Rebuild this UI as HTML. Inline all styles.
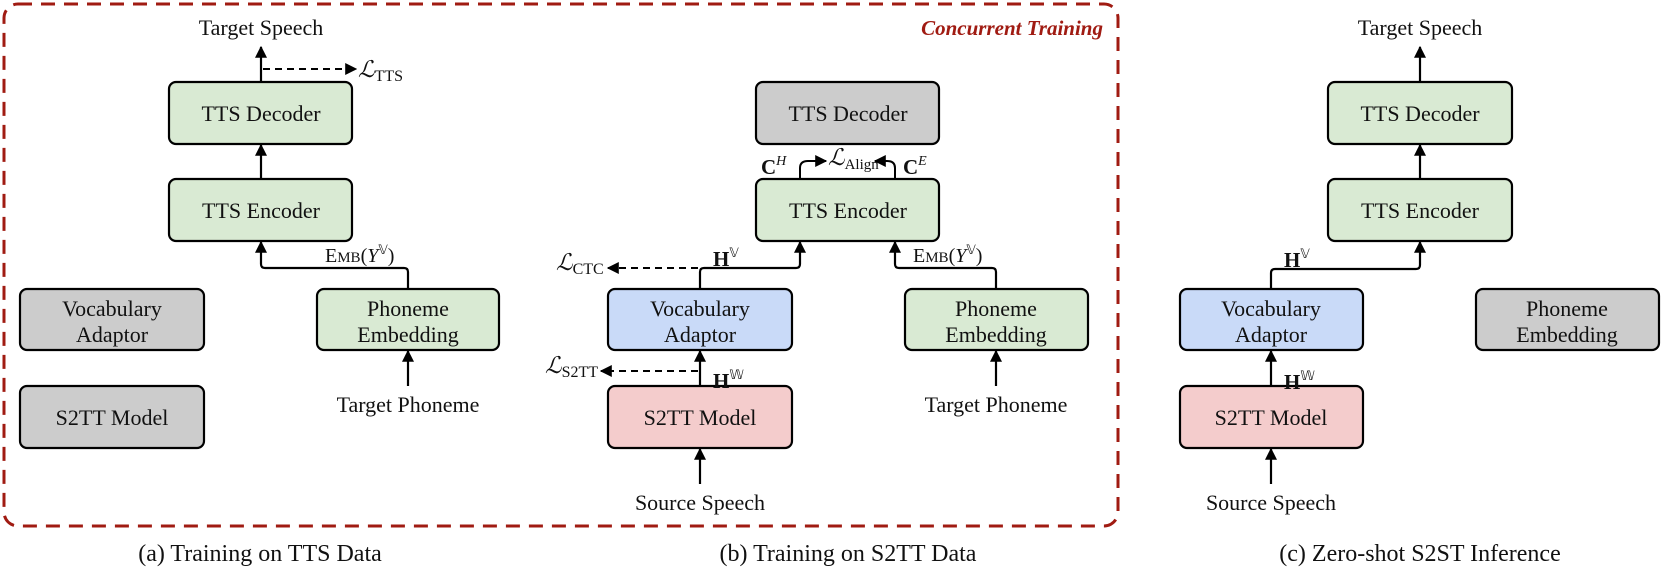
<!DOCTYPE html>
<html><head><meta charset="utf-8"><style>
html,body{margin:0;padding:0;background:#fff}
svg{display:block}
text{font-family:"Liberation Serif",serif;fill:#111}
.b{font-size:22px;text-anchor:middle}
.l{font-size:22px;text-anchor:middle}
.cap{font-size:24px;text-anchor:middle}
</style></head><body>
<svg width="1661" height="575" viewBox="0 0 1661 575" xmlns="http://www.w3.org/2000/svg">
<defs>
<marker id="s" viewBox="0 0 10 10" refX="9" refY="5" markerWidth="12" markerHeight="12" markerUnits="userSpaceOnUse" orient="auto"><path d="M0,0 L10,5 L0,10 z" fill="#000"/></marker>
</defs>
<rect x="4" y="4" width="1114" height="522" rx="14" fill="none" stroke="#a01b12" stroke-width="3" stroke-dasharray="14,9"/>
<text x="1103" y="35" style="font-size:21px;font-weight:bold;font-style:italic;fill:#a01b12;text-anchor:end">Concurrent Training</text>

<g stroke="#000" stroke-width="2.2">
<rect x="169" y="82" width="183" height="62" rx="7" fill="#d9ead3"/>
<rect x="169" y="179" width="183" height="62" rx="7" fill="#d9ead3"/>
<rect x="20" y="289" width="184" height="61" rx="7" fill="#cccccc"/>
<rect x="20" y="386" width="184" height="62" rx="7" fill="#cccccc"/>
<rect x="317" y="289" width="182" height="61" rx="7" fill="#d9ead3"/>
<rect x="756" y="82" width="183" height="62" rx="7" fill="#cccccc"/>
<rect x="756" y="179" width="183" height="62" rx="7" fill="#d9ead3"/>
<rect x="608" y="289" width="184" height="61" rx="7" fill="#c9daf8"/>
<rect x="608" y="386" width="184" height="62" rx="7" fill="#f4cccc"/>
<rect x="905" y="289" width="183" height="61" rx="7" fill="#d9ead3"/>
<rect x="1328" y="82" width="184" height="62" rx="7" fill="#d9ead3"/>
<rect x="1328" y="179" width="184" height="62" rx="7" fill="#d9ead3"/>
<rect x="1180" y="289" width="183" height="61" rx="7" fill="#c9daf8"/>
<rect x="1180" y="386" width="183" height="62" rx="7" fill="#f4cccc"/>
<rect x="1476" y="289" width="183" height="61" rx="7" fill="#cccccc"/>
</g>

<g stroke="#000" stroke-width="2.2" fill="none">
<line x1="261" y1="82" x2="261" y2="47" marker-end="url(#s)"/>
<line x1="261" y1="179" x2="261" y2="145" marker-end="url(#s)"/>
<path d="M408,289 V272 Q408,268 404,268 H265 Q261,268 261,264 V242" marker-end="url(#s)"/>
<line x1="408" y1="386" x2="408" y2="351" marker-end="url(#s)"/>
<line x1="263" y1="69" x2="356" y2="69" stroke-dasharray="7,5" stroke-width="2" marker-end="url(#s)"/>
<path d="M700,289 V272 Q700,268 704,268 H796 Q800,268 800,264 V242" marker-end="url(#s)"/>
<path d="M996,289 V272 Q996,268 992,268 H899 Q895,268 895,264 V242" marker-end="url(#s)"/>
<line x1="700" y1="386" x2="700" y2="351" marker-end="url(#s)"/>
<line x1="700" y1="484" x2="700" y2="449" marker-end="url(#s)"/>
<line x1="996" y1="386" x2="996" y2="351" marker-end="url(#s)"/>
<line x1="698" y1="268" x2="608" y2="268" stroke-dasharray="7,5" stroke-width="2" marker-end="url(#s)"/>
<line x1="698" y1="371" x2="601" y2="371" stroke-dasharray="7,5" stroke-width="2" marker-end="url(#s)"/>
<path d="M800,179 V168 Q800,161 808,161 H826" stroke-width="2" marker-end="url(#s)"/>
<path d="M895,179 V168 Q895,161 887,161 H875" stroke-width="2" marker-end="url(#s)"/>
<line x1="1420" y1="82" x2="1420" y2="47" marker-end="url(#s)"/>
<line x1="1420" y1="179" x2="1420" y2="145" marker-end="url(#s)"/>
<path d="M1271,289 V273 Q1271,269 1275,269 H1416 Q1420,269 1420,265 V242" marker-end="url(#s)"/>
<line x1="1271" y1="386" x2="1271" y2="351" marker-end="url(#s)"/>
<line x1="1271" y1="484" x2="1271" y2="449" marker-end="url(#s)"/>
</g>

<text class="b" x="261" y="121">TTS Decoder</text>
<text class="b" x="261" y="218">TTS Encoder</text>
<text class="b" x="112" y="316">Vocabulary</text>
<text class="b" x="112" y="342">Adaptor</text>
<text class="b" x="112" y="425">S2TT Model</text>
<text class="b" x="408" y="316">Phoneme</text>
<text class="b" x="408" y="342">Embedding</text>

<text class="b" x="848" y="121">TTS Decoder</text>
<text class="b" x="848" y="218">TTS Encoder</text>
<text class="b" x="700" y="316">Vocabulary</text>
<text class="b" x="700" y="342">Adaptor</text>
<text class="b" x="700" y="425">S2TT Model</text>
<text class="b" x="996" y="316">Phoneme</text>
<text class="b" x="996" y="342">Embedding</text>

<text class="b" x="1420" y="121">TTS Decoder</text>
<text class="b" x="1420" y="218">TTS Encoder</text>
<text class="b" x="1271" y="316">Vocabulary</text>
<text class="b" x="1271" y="342">Adaptor</text>
<text class="b" x="1271" y="425">S2TT Model</text>
<text class="b" x="1567" y="316">Phoneme</text>
<text class="b" x="1567" y="342">Embedding</text>

<text class="l" x="261" y="35">Target Speech</text>
<text class="l" x="408" y="412">Target Phoneme</text>
<text class="l" x="700" y="510">Source Speech</text>
<text class="l" x="996" y="412">Target Phoneme</text>
<text class="l" x="1420" y="35">Target Speech</text>
<text class="l" x="1271" y="510">Source Speech</text>

<text x="358" y="77" style="font-size:23px;font-style:italic">ℒ<tspan style="font-size:16px;font-style:normal" dy="4">TTS</tspan></text>
<text x="325" y="262" style="font-size:20px">E<tspan style="font-size:15px">MB</tspan>(<tspan font-style="italic">Y</tspan><tspan style="font-size:13px" dy="-8">𝕍</tspan><tspan dy="8">)</tspan></text>
<text x="913" y="262" style="font-size:20px">E<tspan style="font-size:15px">MB</tspan>(<tspan font-style="italic">Y</tspan><tspan style="font-size:13px" dy="-8">𝕍</tspan><tspan dy="8">)</tspan></text>
<text x="713" y="266" style="font-size:21px;font-weight:bold">H<tspan style="font-size:13px;font-weight:normal" dy="-9">𝕍</tspan></text>
<text x="713" y="388" style="font-size:21px;font-weight:bold">H<tspan style="font-size:13px;font-weight:normal" dy="-9">𝕎</tspan></text>
<text x="1284" y="267" style="font-size:21px;font-weight:bold">H<tspan style="font-size:13px;font-weight:normal" dy="-9">𝕍</tspan></text>
<text x="1284" y="389" style="font-size:21px;font-weight:bold">H<tspan style="font-size:13px;font-weight:normal" dy="-9">𝕎</tspan></text>
<text x="556" y="270" style="font-size:23px;font-style:italic">ℒ<tspan style="font-size:16px;font-style:normal" dy="4">CTC</tspan></text>
<text x="545" y="373" style="font-size:23px;font-style:italic">ℒ<tspan style="font-size:16px;font-style:normal" dy="4">S2TT</tspan></text>
<text x="828" y="165" style="font-size:23px;font-style:italic">ℒ<tspan style="font-size:15px;font-style:normal" dy="4">Align</tspan></text>
<text x="761" y="174" style="font-size:21px;font-weight:bold">C<tspan style="font-size:14px;font-weight:normal;font-style:italic" dy="-9">H</tspan></text>
<text x="903" y="174" style="font-size:21px;font-weight:bold">C<tspan style="font-size:14px;font-weight:normal;font-style:italic" dy="-9">E</tspan></text>

<text class="cap" x="260" y="561">(a) Training on TTS Data</text>
<text class="cap" x="848" y="561">(b) Training on S2TT Data</text>
<text class="cap" x="1420" y="561">(c) Zero-shot S2ST Inference</text>
</svg>
</body></html>
